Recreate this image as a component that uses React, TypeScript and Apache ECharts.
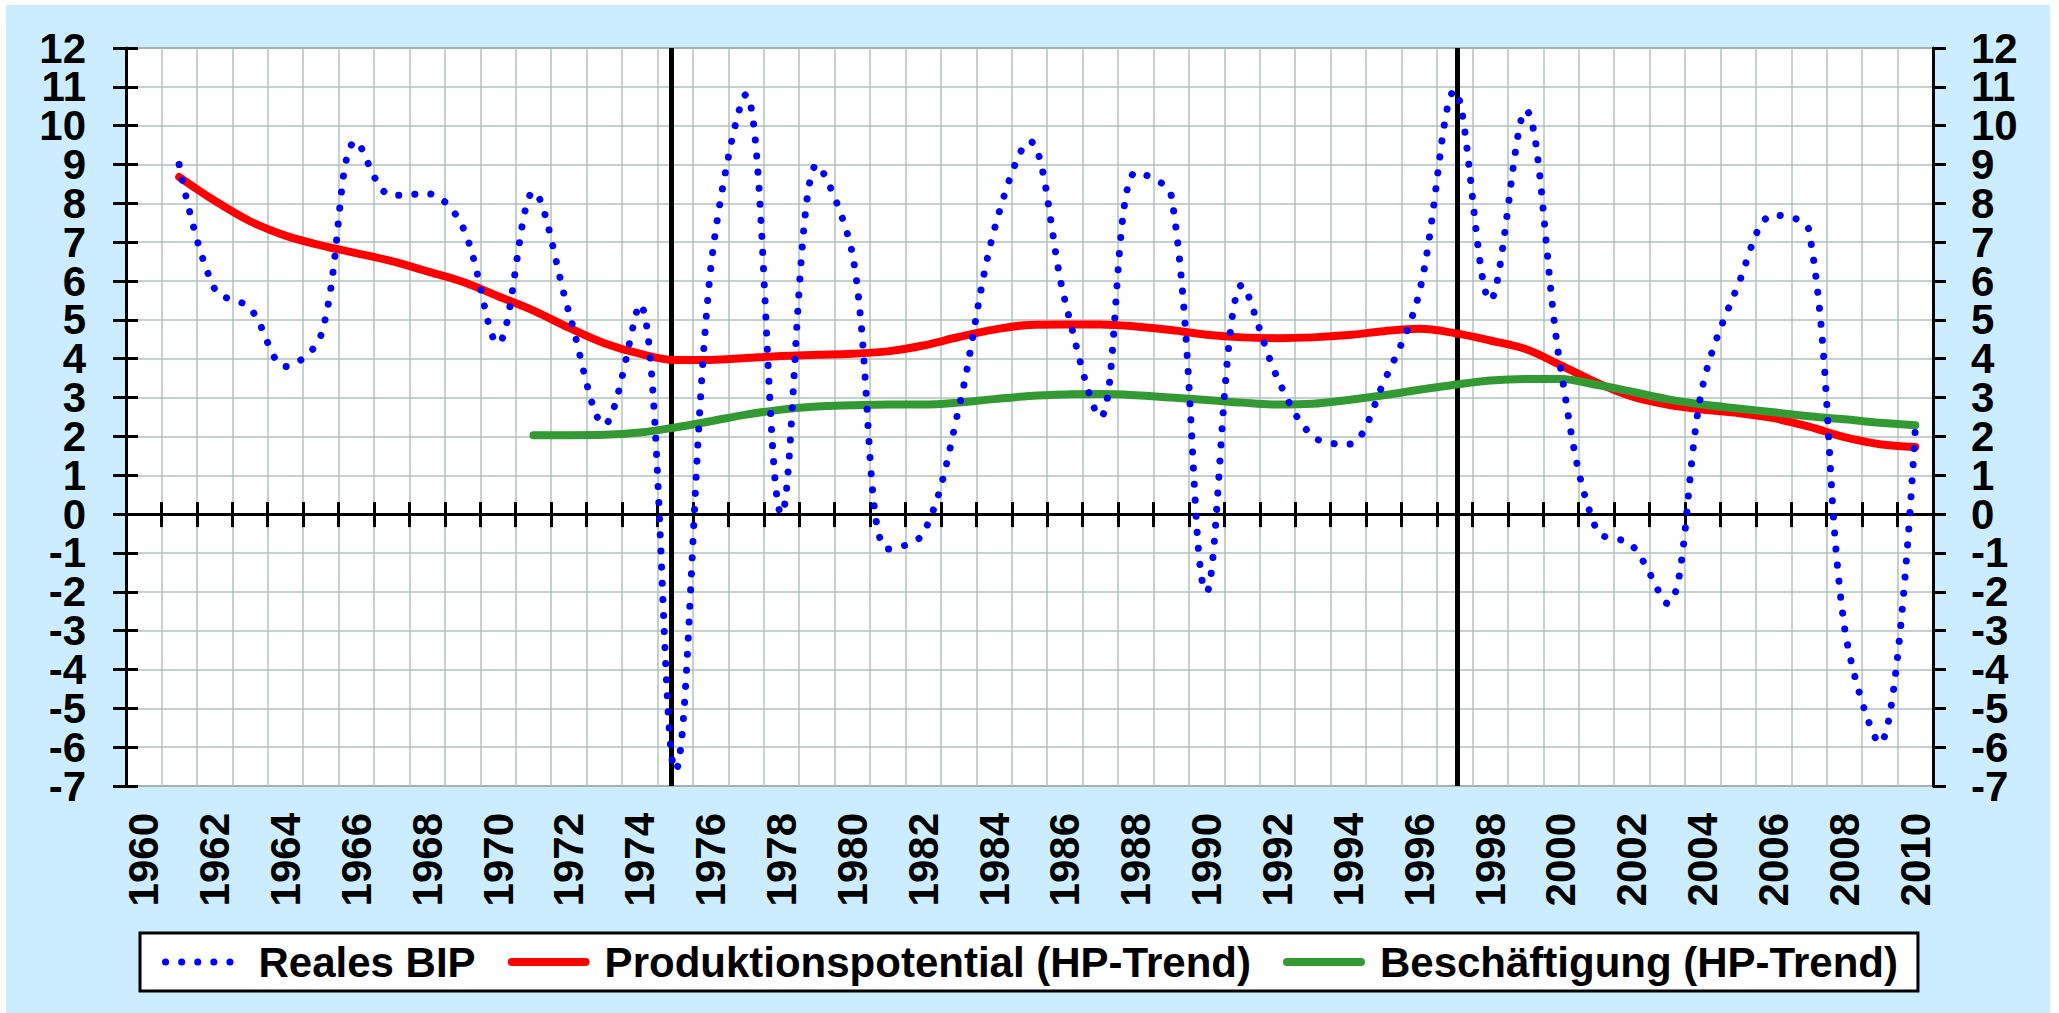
import React, { useEffect, useRef } from 'react';
import * as echarts from 'echarts';

const years = [
  '1960', '1961', '1962', '1963', '1964', '1965', '1966', '1967', '1968', '1969',
  '1970', '1971', '1972', '1973', '1974', '1975', '1976', '1977', '1978', '1979',
  '1980', '1981', '1982', '1983', '1984', '1985', '1986', '1987', '1988', '1989',
  '1990', '1991', '1992', '1993', '1994', '1995', '1996', '1997', '1998', '1999',
  '2000', '2001', '2002', '2003', '2004', '2005', '2006', '2007', '2008', '2009',
  '2010',
];

const yTickLabels = [
  '-7', '-6', '-5', '-4', '-3', '-2', '-1', '0', '1', '2',
  '3', '4', '5', '6', '7', '8', '9', '10', '11', '12',
];

const realesBIP = [
  null, 9.0, 5.8, 5.3, 3.8, 4.6, 9.6, 8.2, 8.25, 7.4,
  4.4, 8.3, 5.2, 2.3, 5.4, -6.6, 6.3, 10.8, 0.0, 9.0,
  6.7, -0.9, -0.5, 2.7, 7.3, 9.6, 5.5, 2.5, 8.8, 8.2,
  -2.0, 5.9, 3.5, 2.0, 1.8, 3.4, 5.7, 10.9, 5.5, 10.4,
  3.7, -0.4, -0.8, -2.3, 3.3, 5.9, 7.7, 7.3, -2.9, -5.9,
  2.2,
];

const produktionspotential = [
  null, 8.68, 8.07, 7.54, 7.17, 6.92, 6.72, 6.51, 6.25, 5.98,
  5.61, 5.24, 4.8, 4.4, 4.13, 3.97, 3.97, 4.02, 4.07, 4.1,
  4.13, 4.19, 4.34, 4.56, 4.75, 4.87, 4.88, 4.88, 4.83, 4.74,
  4.62, 4.55, 4.53, 4.55, 4.61, 4.71, 4.77, 4.66, 4.47, 4.25,
  3.83, 3.39, 3.03, 2.82, 2.69, 2.6, 2.47, 2.25, 1.98, 1.8,
  1.73,
];

const beschaeftigung = [
  null, null, null, null, null, null, null, null, null, null,
  null, 2.03, 2.03, 2.04, 2.1, 2.23, 2.39, 2.56, 2.69, 2.77,
  2.8, 2.82, 2.82, 2.87, 2.96, 3.04, 3.08, 3.09, 3.06, 3.0,
  2.94, 2.87, 2.82, 2.84, 2.94, 3.06, 3.2, 3.33, 3.44, 3.48,
  3.48, 3.33, 3.15, 2.96, 2.82, 2.72, 2.62, 2.52, 2.44, 2.35,
  2.29,
];

// vertical marker lines (year position, slightly off the category centre in the source)
const markerPositions = [1974.9, 1997.08];

const seriesNames = [
  'Reales BIP',
  'Produktionspotential (HP-Trend)',
  'Beschäftigung (HP-Trend)',
];

const Y_MIN = -7;
const Y_MAX = 12;
const Y_STEP = 1;
const X_VALUE_MIN = 1959.5;
const X_VALUE_MAX = 2010.5;

const FONT = '"Liberation Sans", Arial, sans-serif';
const GRID_COLOR = '#AFC2BF';

export default function App() {
  const ref = useRef<HTMLDivElement>(null);

  useEffect(() => {
    if (!ref.current) return;
    const chart = echarts.init(ref.current, null, { renderer: 'svg' });

    const labelStyle = {
      fontSize: 42,
      fontWeight: 'bold' as const,
      color: '#000',
      fontFamily: FONT,
    };

    const valueAxisBase = {
      type: 'value',
      min: Y_MIN,
      max: Y_MAX,
      interval: Y_STEP,
      axisLabel: { show: false },
    };

    const labelAxisBase = {
      type: 'category',
      data: yTickLabels,
      boundaryGap: false,
      axisLine: { show: false, onZero: false },
      axisTick: { show: false },
      splitLine: { show: false },
    };

    chart.setOption({
      animation: false,
      backgroundColor: '#CCECFF',
      textStyle: { fontFamily: FONT },
      grid: {
        left: 120,
        top: 43,
        width: 1807,
        height: 738,
        show: true,
        backgroundColor: '#ffffff',
        borderColor: '#808080',
        borderWidth: 2,
        containLabel: false,
      },
      legend: {
        data: seriesNames,
        orient: 'horizontal',
        left: 134,
        top: 928,
        padding: [8, 20, 8, 22],
        itemGap: 32,
        itemWidth: 74,
        itemHeight: 14,
        backgroundColor: '#ffffff',
        borderColor: '#000000',
        borderWidth: 3,
        borderRadius: 0,
        selectedMode: false,
        textStyle: { ...labelStyle, padding: [0, 0, 0, 14] },
        lineStyle: { width: 'inherit', type: 'inherit', cap: 'inherit' },
        itemStyle: { opacity: 0 },
      },
      xAxis: [
        {
          type: 'category',
          data: years,
          boundaryGap: true,
          position: 'bottom',
          axisLine: {
            show: true,
            onZero: true,
            onZeroAxisIndex: 0,
            lineStyle: { color: '#000', width: 3 },
          },
          axisTick: {
            show: true,
            interval: 0,
            length: 13,
            lineStyle: { color: '#000', width: 3 },
          },
          axisLabel: {
            ...labelStyle,
            interval: 1,
            rotate: 90,
            margin: 27,
            showMinLabel: true,
            showMaxLabel: true,
          },
          splitLine: {
            show: true,
            interval: 0,
            lineStyle: { color: GRID_COLOR, width: 1.5 },
          },
        },
        {
          type: 'category',
          data: years,
          boundaryGap: true,
          position: 'top',
          axisLine: {
            show: true,
            onZero: true,
            onZeroAxisIndex: 0,
            lineStyle: { color: '#000', width: 3 },
          },
          axisTick: {
            show: true,
            interval: 0,
            length: 12,
            lineStyle: { color: '#000', width: 3 },
          },
          axisLabel: { show: false },
          splitLine: { show: false },
        },
        {
          type: 'value',
          min: X_VALUE_MIN,
          max: X_VALUE_MAX,
          show: false,
          axisLine: { onZero: false },
          splitLine: { show: false },
        },
      ],
      yAxis: [
        {
          ...valueAxisBase,
          position: 'left',
          axisLine: { show: true, onZero: false, lineStyle: { color: '#000', width: 3 } },
          axisTick: { show: true, length: 13, lineStyle: { color: '#000', width: 3 } },
          splitLine: { show: true, lineStyle: { color: GRID_COLOR, width: 1.5 } },
        },
        {
          ...valueAxisBase,
          position: 'left',
          axisLine: { show: false, onZero: false },
          axisTick: { show: true, inside: true, length: 12, lineStyle: { color: '#000', width: 3 } },
          splitLine: { show: false },
        },
        {
          ...valueAxisBase,
          position: 'right',
          axisLine: { show: true, onZero: false, lineStyle: { color: '#000', width: 3 } },
          axisTick: { show: true, length: 13, lineStyle: { color: '#000', width: 3 } },
          splitLine: { show: false },
        },
        {
          ...labelAxisBase,
          position: 'left',
          axisLabel: { ...labelStyle, interval: 0, margin: 40 },
        },
        {
          ...labelAxisBase,
          position: 'right',
          axisLabel: { ...labelStyle, interval: 0, margin: 38 },
        },
      ],
      series: [
        {
          name: 'Marker',
          type: 'line',
          data: [],
          xAxisIndex: 2,
          yAxisIndex: 0,
          symbol: 'none',
          z: 1,
          markLine: {
            silent: true,
            z: 1,
            symbol: ['none', 'none'],
            label: { show: false },
            lineStyle: { color: '#000', width: 5, type: 'solid' },
            data: markerPositions.map((x) => ({ xAxis: x })),
          },
        },
        {
          name: seriesNames[0],
          type: 'line',
          data: realesBIP,
          xAxisIndex: 0,
          yAxisIndex: 0,
          smooth: 0.35,
          symbol: 'none',
          showSymbol: false,
          z: 10,
          itemStyle: { color: '#0000FF' },
          lineStyle: { color: '#0000FF', width: 7, type: [0.1, 16], cap: 'round' },
        },
        {
          name: seriesNames[1],
          type: 'line',
          data: produktionspotential,
          xAxisIndex: 0,
          yAxisIndex: 0,
          smooth: 0.35,
          symbol: 'none',
          showSymbol: false,
          z: 8,
          itemStyle: { color: '#FF0000' },
          lineStyle: { color: '#FF0000', width: 8, cap: 'round', join: 'round' },
        },
        {
          name: seriesNames[2],
          type: 'line',
          data: beschaeftigung,
          xAxisIndex: 0,
          yAxisIndex: 0,
          smooth: 0.35,
          symbol: 'none',
          showSymbol: false,
          z: 8,
          itemStyle: { color: '#339933' },
          lineStyle: { color: '#339933', width: 8, cap: 'round', join: 'round' },
        },
      ],
    });

    return () => chart.dispose();
  }, []);

  return (
    <div
      style={{
        position: 'fixed',
        left: 0,
        top: 0,
        width: 2059,
        height: 1013,
        background: '#ffffff',
      }}
    >
      <div
        ref={ref}
        style={{ position: 'absolute', left: 6, top: 5, width: 2044, height: 1008 }}
      />
    </div>
  );
}
